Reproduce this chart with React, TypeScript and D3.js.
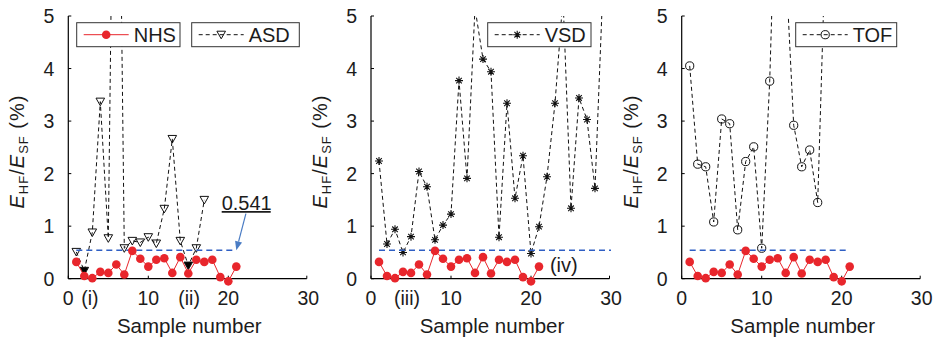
import React from 'react';
import * as d3 from 'd3';

// ---- data ----
const nhsValues = [0.32, 0.05, 0.01, 0.13, 0.11, 0.27, 0.08, 0.53, 0.38, 0.23, 0.36, 0.39, 0.11, 0.41, 0.1, 0.36, 0.32, 0.36, 0.03, -0.05, 0.23];
const asdValues = [0.51, 0.15, 0.88, 3.37, 0.77, 13.5, 0.58, 0.72, 0.69, 0.79, 0.67, 1.33, 2.66, 0.72, 0.25, 0.58, 1.5];
const asdFilled = [2, 15];
const vsdValues = [2.24, 0.66, 0.94, 0.5, 0.8, 2.04, 1.75, 0.74, 1.02, 1.23, 3.77, 1.91, 5.15, 4.18, 3.94, 0.79, 3.34, 1.53, 2.34, 0.48, 0.99, 1.94, 3.34, 5.35, 1.34, 3.44, 3.03, 1.72, 5.6];
const tofValues = [4.05, 2.18, 2.13, 1.08, 3.04, 2.95, 0.93, 2.23, 2.51, 0.58, 3.76, 8.8, 6.0, 2.92, 2.13, 2.45, 1.45, 6.5];
const xTicks = [0, 10, 20, 30];
const yTicks = [0, 1, 2, 3, 4, 5];
const threshold = 0.541;
const thresholdSpans = [[1, 21], [1, 30], [1, 21]];
const seriesNames = ['ASD', 'VSD', 'TOF'];
const tickNotes = [
  { panel: 0, x: 2.7, label: '(i)' },
  { panel: 0, x: 15.1, label: '(ii)' },
  { panel: 1, x: 4.5, label: '(iii)' },
];
const innerNotes = [{ panel: 1, x: 24.1, y: 0.26, label: '(iv)' }];
const thresholdNote = { panel: 0, textX: 22.3, textY: 1.31, tailX: 22.2, tailY: 1.24, headX: 21, headY: 0.541, label: '0.541' };
const xLabel = 'Sample number';

// ---- layout ----
const W = 933;
const H = 337;
const panelX0 = [68.3, 371, 681.7];
const PW = 240;
const Y0 = 278.7;
const YT = 16;
const FONT = '"Liberation Sans", Arial, Helvetica, sans-serif';
const RED = '#e8262c';
const BLUE = '#2f5fc4';
const TXT = '#1c1c1c';

type MarkerKind = 'dot' | 'tri' | 'star' | 'circle';

function Marker({ kind, x, y, filled }: { kind: MarkerKind; x: number; y: number; filled?: boolean }) {
  if (kind === 'dot') return <circle cx={x} cy={y} r={4.3} fill={RED} />;
  if (kind === 'circle') return <circle cx={x} cy={y} r={4.1} fill="none" stroke="#111" strokeWidth={1} />;
  if (kind === 'tri')
    return (
      <path
        transform={`translate(${x},${y})`}
        d="M-4.3,-3.5L4.3,-3.5L0,4.1Z"
        fill={filled ? '#000' : 'none'}
        stroke="#111"
        strokeWidth={1}
        strokeLinejoin="miter"
      />
    );
  return (
    <path
      transform={`translate(${x},${y})`}
      d="M-4,0H4M0,-4V4M-2.8,-2.8L2.8,2.8M-2.8,2.8L2.8,-2.8"
      stroke="#111"
      strokeWidth={1.1}
      fill="none"
    />
  );
}

const panelSeries: { values: number[]; kind: MarkerKind; filled: number[] }[] = [
  { values: asdValues, kind: 'tri', filled: asdFilled },
  { values: vsdValues, kind: 'star', filled: [] },
  { values: tofValues, kind: 'circle', filled: [] },
];

const legendBoxes = [
  [
    { dx: 8.4, w: 103.3, name: 'NHS', kind: 'dot' as MarkerKind, red: true },
    { dx: 123.4, w: 107.6, name: seriesNames[0], kind: 'tri' as MarkerKind, red: false },
  ],
  [{ dx: 116.7, w: 103.3, name: seriesNames[1], kind: 'star' as MarkerKind, red: false }],
  [{ dx: 114, w: 101, name: seriesNames[2], kind: 'circle' as MarkerKind, red: false }],
];

function Panel({ idx }: { idx: number }) {
  const x0 = panelX0[idx];
  const x = d3.scaleLinear().domain([0, 30]).range([x0, x0 + PW]);
  const y = d3.scaleLinear().domain([0, 5]).range([Y0, YT]);
  const line = d3
    .line<number>()
    .x((_, i) => x(i + 1))
    .y((d) => y(d));
  const s = panelSeries[idx];
  const clipId = `clip${idx}`;
  const span = thresholdSpans[idx];
  return (
    <g>
      <defs>
        <clipPath id={clipId}>
          <rect x={x0} y={YT} width={PW} height={Y0 - YT} />
        </clipPath>
      </defs>
      {/* axes */}
      <line x1={x0} x2={x0} y1={YT} y2={Y0} stroke="#000" strokeWidth={1.2} />
      <line x1={x0} x2={x(30) - 1.5} y1={Y0} y2={Y0} stroke="#000" strokeWidth={1.2} />
      {yTicks.map((t) => (
        <g key={'y' + t}>
          <line x1={x0} x2={x0 + 3} y1={y(t)} y2={y(t)} stroke="#000" />
          <text x={x0 - 14} y={y(t)} dy="0.36em" textAnchor="end" fontSize={19.5} fill={TXT} fontFamily={FONT}>
            {t}
          </text>
        </g>
      ))}
      {xTicks.map((t) => (
        <g key={'x' + t}>
          <line x1={x(t) - (t === 30 ? 1.5 : 0)} x2={x(t) - (t === 30 ? 1.5 : 0)} y1={Y0} y2={Y0 - 3} stroke="#000" />
          <text x={x(t)} y={Y0 + 26} textAnchor="middle" fontSize={19.5} fill={TXT} fontFamily={FONT}>
            {t}
          </text>
        </g>
      ))}
      {tickNotes
        .filter((n) => n.panel === idx)
        .map((n) => (
          <text key={n.label} x={x(n.x)} y={Y0 + 26} textAnchor="middle" fontSize={19.5} fill={TXT} fontFamily={FONT}>
            {n.label}
          </text>
        ))}
      <text x={x0 + PW / 2 + 1} y={Y0 + 54} textAnchor="middle" fontSize={20.5} fill={TXT} fontFamily={FONT}>
        {xLabel}
      </text>
      <text
        transform={`translate(${x0 - 44},${152}) rotate(-90)`}
        textAnchor="middle"
        fontSize={20}
        fill={TXT}
        fontFamily={FONT}
        textLength={113}
        lengthAdjust="spacing"
      >
        <tspan fontStyle="italic">E</tspan>
        <tspan fontSize={13} dy={4}>HF</tspan>
        <tspan dy={-4}>/</tspan>
        <tspan fontStyle="italic">E</tspan>
        <tspan fontSize={13} dy={4}>SF</tspan>
        <tspan dy={-4}> (%)</tspan>
      </text>
      {/* series */}
      <g clipPath={`url(#${clipId})`}>
        <path d={line(s.values) || ''} fill="none" stroke="#111" strokeWidth={1} strokeDasharray="4,3" />
      </g>
      {s.values.map((v, i) =>
        v <= 5 ? <Marker key={i} kind={s.kind} x={x(i + 1)} y={y(v)} filled={s.filled.includes(i + 1)} /> : null
      )}
      <line
        x1={x(span[0])}
        x2={x(span[1])}
        y1={y(threshold)}
        y2={y(threshold)}
        stroke={BLUE}
        strokeWidth={1.4}
        strokeDasharray="6,4"
      />
      <g clipPath={`url(#${clipId})`}>
        <path d={line(nhsValues) || ''} fill="none" stroke={RED} strokeWidth={1} />
      </g>
      {nhsValues.map((v, i) => (
        <Marker key={'n' + i} kind="dot" x={x(i + 1)} y={y(v)} />
      ))}
      {innerNotes
        .filter((n) => n.panel === idx)
        .map((n) => (
          <text key={n.label} x={x(n.x)} y={y(n.y)} dy="0.36em" textAnchor="middle" fontSize={20} fill={TXT} fontFamily={FONT}>
            {n.label}
          </text>
        ))}
      {thresholdNote.panel === idx && (
        <g>
          <text x={x(thresholdNote.textX)} y={y(thresholdNote.textY)} textAnchor="middle" fontSize={20} fill={TXT} fontFamily={FONT}>
            {thresholdNote.label}
          </text>
          <line
            x1={x(thresholdNote.textX) - 25}
            x2={x(thresholdNote.textX) + 24}
            y1={y(thresholdNote.textY) + 2}
            y2={y(thresholdNote.textY) + 2}
            stroke={TXT}
            strokeWidth={1.6}
          />
          {(() => {
            const tx = x(thresholdNote.tailX);
            const ty = y(thresholdNote.tailY);
            const hx = x(thresholdNote.headX);
            const hy = y(thresholdNote.headY);
            const ang = Math.atan2(hy - ty, hx - tx);
            const L = 9;
            const wdt = 3.6;
            const bx = hx - L * Math.cos(ang);
            const by = hy - L * Math.sin(ang);
            const px = -Math.sin(ang) * wdt;
            const py = Math.cos(ang) * wdt;
            return (
              <g>
                <line x1={tx} y1={ty} x2={bx} y2={by} stroke="#4a7cc4" strokeWidth={1.2} />
                <path d={`M${hx},${hy}L${bx + px},${by + py}L${bx - px},${by - py}Z`} fill="#4a7cc4" />
              </g>
            );
          })()}
        </g>
      )}
      {/* legends */}
      {legendBoxes[idx].map((b) => {
        const bx = x0 + b.dx;
        const by = 22.7;
        const bh = 24;
        const cy = by + bh / 2;
        return (
          <g key={b.name}>
            <rect x={bx} y={by} width={b.w} height={bh} fill="#fff" stroke="#333" strokeWidth={1} />
            <line
              x1={bx + 7}
              x2={bx + 52}
              y1={cy}
              y2={cy}
              stroke={b.red ? RED : '#111'}
              strokeWidth={1}
              strokeDasharray={b.red ? undefined : '4,3'}
            />
            <Marker kind={b.kind} x={bx + 29.5} y={cy} />
            <text x={bx + 57} y={cy} dy="0.36em" fontSize={20} fill={TXT} fontFamily={FONT}>
              {b.name}
            </text>
          </g>
        );
      })}
    </g>
  );
}

export default function App() {
  return (
    <svg
      width={W}
      height={H}
      viewBox={`0 0 ${W} ${H}`}
      style={{ position: 'absolute', left: 0, top: 0, background: '#fff' }}
    >
      <rect width={W} height={H} fill="#fff" />
      {[0, 1, 2].map((i) => (
        <Panel key={i} idx={i} />
      ))}
    </svg>
  );
}
